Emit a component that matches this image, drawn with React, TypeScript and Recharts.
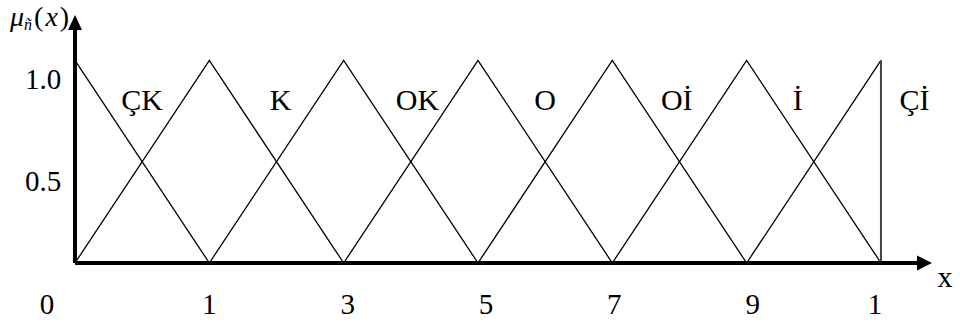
import { LineChart, Line, XAxis, YAxis, ReferenceLine, ReferenceDot } from 'recharts';

// scale values printed under the axis (one per position 0..6)
const scalePoints = ['0', '1', '3', '5', '7', '9', '1'];
const termNames = ['ÇK', 'K', 'OK', 'O', 'Oİ', 'İ', 'Çİ'];

// triangular membership functions, pos = position on the scale, mu = grade
const CK = [{ pos: 0, mu: 1 }, { pos: 1, mu: 0 }];
const K = [{ pos: 0, mu: 0 }, { pos: 1, mu: 1 }, { pos: 2, mu: 0 }];
const OK = [{ pos: 1, mu: 0 }, { pos: 2, mu: 1 }, { pos: 3, mu: 0 }];
const O = [{ pos: 2, mu: 0 }, { pos: 3, mu: 1 }, { pos: 4, mu: 0 }];
const OI = [{ pos: 3, mu: 0 }, { pos: 4, mu: 1 }, { pos: 5, mu: 0 }];
const I = [{ pos: 4, mu: 0 }, { pos: 5, mu: 1 }, { pos: 6, mu: 0 }];
const CI = [{ pos: 5, mu: 0 }, { pos: 6, mu: 1 }];
const terms = [CK, K, OK, O, OI, I, CI];

// where each term name is written
const termLabelPos = [0.5, 1.53, 2.55, 3.5, 4.48, 5.38, 6.25];
const termLabelMu = 0.81;

const yTicks = [0.5, 1];

const FONT = '"Liberation Serif", "Times New Roman", serif';
const tickNudge = [-28, 0, 4, 8, 2, 6, -6];

const XTick = ({ x, y, payload, index }: any) => (
  <text x={x + tickNudge[index]} y={y + 51} textAnchor="middle" fontSize={29} fontFamily={FONT} fill="#000">
    {scalePoints[payload.value]}
  </text>
);

const YTick = ({ x, y, payload }: any) => (
  <text x={x - 32} y={y + 29} textAnchor="middle" fontSize={29} fontFamily={FONT} fill="#000">
    {payload.value.toFixed(1)}
  </text>
);

const UpArrow = ({ cx, cy }: any) => (
  <g>
    <text x={cx - 65} y={cy - 4} fontSize={28} fontFamily={FONT} fill="#000">
      <tspan fontStyle="italic">μ</tspan>
      <tspan fontStyle="italic" fontSize={16} dy={4}>ñ</tspan>
      <tspan dy={-4} dx={2}>(</tspan>
      <tspan fontStyle="italic" dx={2}>x</tspan>
      <tspan dx={2}>)</tspan>
    </text>
    <polygon points={`${cx - 7},${cy} ${cx + 7},${cy} ${cx},${cy - 15}`} fill="#000" />
  </g>
);

const RightArrow = ({ cx, cy }: any) => (
  <g>
    <polygon points={`${cx - 15},${cy - 7.5} ${cx - 15},${cy + 7.5} ${cx},${cy}`} fill="#000" />
    <text x={cx + 13} y={cy + 24} textAnchor="middle" fontSize={30} fontFamily={FONT} fill="#000">
      x
    </text>
  </g>
);

export default function App() {
  return (
    <div style={{ position: 'absolute', left: 0, top: 0, background: '#fff' }}>
      <LineChart width={960} height={325} margin={{ top: 30, right: 28, bottom: 0, left: 0 }}>
        <XAxis
          type="number"
          dataKey="pos"
          domain={[0, 6.38]}
          ticks={[0, 1, 2, 3, 4, 5, 6]}
          interval={0}
          tick={<XTick />}
          tickLine={false}
          tickSize={0}
          tickMargin={0}
          axisLine={false}
          height={62}
        />
        <YAxis
          type="number"
          domain={[0, 1.15]}
          ticks={yTicks}
          tick={<YTick />}
          tickLine={false}
          tickSize={0}
          tickMargin={0}
          axisLine={{ stroke: '#000', strokeWidth: 4 }}
          width={75}
        />
        {terms.map((t, i) => (
          <Line
            key={termNames[i]}
            data={t}
            dataKey="mu"
            type="linear"
            stroke="#000"
            strokeWidth={1.3}
            dot={false}
            activeDot={false}
            isAnimationActive={false}
          />
        ))}
        <ReferenceLine
          segment={[{ x: 6, y: 0 }, { x: 6, y: 1 }]}
          stroke="#444"
          strokeWidth={2}
          ifOverflow="visible"
        />
        <ReferenceLine
          segment={[{ x: 0, y: 0 }, { x: 6.3, y: 0 }]}
          stroke="#000"
          strokeWidth={4}
          ifOverflow="visible"
        />
        {termNames.map((name, i) => (
          <ReferenceDot
            key={'lbl' + name}
            x={termLabelPos[i]}
            y={termLabelMu}
            r={0}
            ifOverflow="visible"
            shape={({ cx, cy }: any) => (
              <text x={cx} y={cy + 11} textAnchor="middle" fontSize={30} fontFamily={FONT} fill="#000">
                {name}
              </text>
            )}
          />
        ))}
        <ReferenceDot x={0} y={1.15} r={0} ifOverflow="visible" shape={<UpArrow />} />
        <ReferenceDot x={6.38} y={0} r={0} ifOverflow="visible" shape={<RightArrow />} />
      </LineChart>
    </div>
  );
}
